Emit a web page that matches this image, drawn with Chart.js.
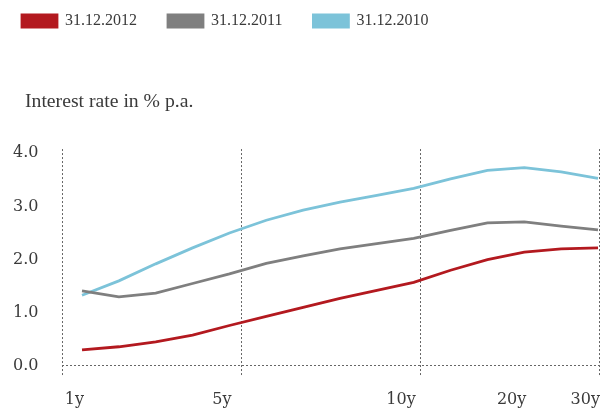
<!DOCTYPE html>
<html>
<head>
<meta charset="utf-8">
<script src="https://cdn.jsdelivr.net/npm/chart.js@4.4.1/dist/chart.umd.min.js"></script>
<style>
  html, body { margin: 0; padding: 0; background: #fff; overflow: hidden; }
  canvas { display: block; }
</style>
</head>
<body>
<canvas id="curva" width="601" height="410"></canvas>
<script>
// maturities along the curve, only some of them get a label
const maturities = ["1y", "2y", "3y", "4y", "5y", "6y", "7y", "8y", "9y", "10y", "12y", "15y", "20y", "25y", "30y"];
const axisLabels = ["1y", "5y", "10y", "20y", "30y"];
const yTicks = [0, 1, 2, 3, 4];

const rates2012 = [0.30, 0.36, 0.45, 0.58, 0.76, 0.93, 1.10, 1.27, 1.42, 1.57, 1.80, 2.00, 2.14, 2.20, 2.22];
const rates2011 = [1.41, 1.30, 1.37, 1.55, 1.73, 1.93, 2.07, 2.20, 2.30, 2.40, 2.55, 2.69, 2.71, 2.63, 2.56];
const rates2010 = [1.33, 1.60, 1.92, 2.22, 2.50, 2.74, 2.93, 3.08, 3.21, 3.34, 3.52, 3.68, 3.73, 3.65, 3.53];

const yTitle = "Interest rate in % p.a.";

function pontos(valores) {
    return valores.map((v, i) => ({ x: i, y: v }));
}

// labels must not push the plot area in
function semPadding(s) {
    s.paddingLeft = s.paddingRight = s.paddingTop = s.paddingBottom = 0;
}

// legend and title sit a bit off the default spots
const ajuste = {
    id: "ajuste",
    afterLayout(chart) {
        chart.legend.left -= 22;
        chart.legend.top -= 18;
        chart.titleBlock.left += 12;
    }
};

const textColor = "#3a3a3a";
const dotted = "#666";

new Chart(document.getElementById("curva"), {
    type: "line",
    data: {
        datasets: [
            { label: "31.12.2012", data: pontos(rates2012), borderColor: "#b3191f", backgroundColor: "#b3191f" },
            { label: "31.12.2011", data: pontos(rates2011), borderColor: "#7f7f7f", backgroundColor: "#7f7f7f" },
            { label: "31.12.2010", data: pontos(rates2010), borderColor: "#7cc3d9", backgroundColor: "#7cc3d9" }
        ]
    },
    plugins: [ajuste],
    options: {
        responsive: false,
        animation: false,
        layout: { padding: { top: 0, left: 13, right: 2, bottom: 0 } },
        elements: {
            line: { borderWidth: 2.8, tension: 0 },
            point: { radius: 0 }
        },
        plugins: {
            tooltip: { enabled: false },
            legend: {
                position: "top",
                align: "start",
                weight: 3000,
                labels: {
                    boxWidth: 35,
                    boxHeight: 12,
                    padding: 31,
                    color: textColor,
                    font: { family: "Liberation Serif", size: 16 }
                }
            },
            title: {
                display: true,
                text: yTitle,
                align: "start",
                weight: 500,
                color: textColor,
                font: { family: "Liberation Serif", size: 19.7, weight: "normal" },
                padding: { top: 33.2, bottom: 35.2 }
            }
        },
        scales: {
            x: {
                type: "linear",
                min: -0.543,
                max: 14.027,
                afterBuildTicks: (s) => { s.ticks = axisLabels.map(l => ({ value: maturities.indexOf(l) })); },
                afterFit: (s) => { semPadding(s); s.height = 34; },
                grid: { display: false, drawTicks: false },
                border: { display: false },
                ticks: {
                    autoSkip: false,
                    maxRotation: 0,
                    align: "end",
                    labelOffset: 2,
                    padding: 14,
                    color: textColor,
                    font: { family: "DejaVu Serif", size: 16 },
                    callback: (v) => maturities[v]
                }
            },
            xg: {
                type: "linear",
                position: "bottom",
                min: 0,
                max: 3,
                afterBuildTicks: (s) => { s.ticks = [0, 1, 2, 3].map(v => ({ value: v })); },
                afterFit: (s) => { semPadding(s); s.height = 0; },
                ticks: { display: false },
                grid: { color: dotted, lineWidth: 1, drawTicks: false },
                border: { display: false, dash: [2, 2] }
            },
            y: {
                min: -0.19,
                max: 4.08,
                afterBuildTicks: (s) => { s.ticks = yTicks.map(v => ({ value: v })); },
                afterFit: (s) => { semPadding(s); s.width = 49; },
                grid: {
                    drawTicks: false,
                    lineWidth: 1,
                    color: (c) => (c.tick && c.tick.value === 0 ? dotted : "rgba(0,0,0,0)")
                },
                border: { display: false, dash: [2, 2] },
                ticks: {
                    padding: 0,
                    crossAlign: "far",
                    color: textColor,
                    font: { family: "DejaVu Serif", size: 16 },
                    callback: (v) => v.toFixed(1)
                }
            }
        }
    }
});
</script>
</body>
</html>
